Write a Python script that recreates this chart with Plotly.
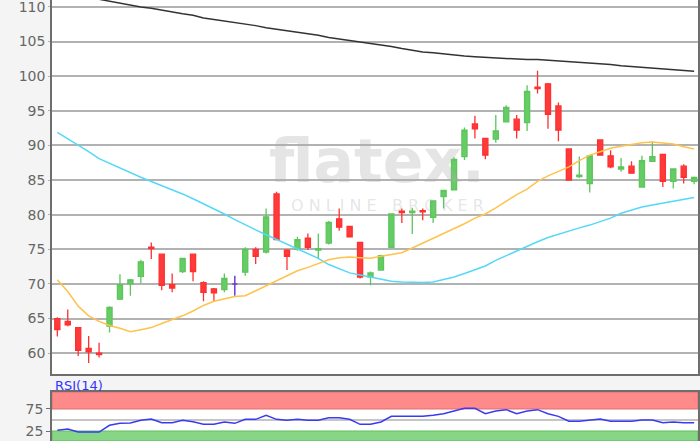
import plotly.graph_objects as go

# ---------------- data ----------------
idx = list(range(62))

opens = [65.0, 64.6, 63.7, 60.7, 60.0, 63.9, 67.8, 70.0, 71.1, 75.3,
         74.3, 69.9, 71.8, 74.3, 70.2, 69.3, 69.2, 70.0, 71.7, 75.0,
         74.6, 83.0, 74.9, 75.0, 76.6, 74.9, 75.9, 79.4, 78.3, 76.0,
         71.0, 72.0, 75.3, 80.5, 80.3, 80.6, 79.6, 82.6, 83.6, 88.4,
         93.1, 91.0, 90.9, 93.4, 93.8, 93.3, 98.4, 98.9, 95.7, 89.5,
         85.5, 84.5, 90.8, 88.5, 86.6, 87.0, 84.0, 87.7, 88.7, 84.8,
         87.0, 84.8]
highs = [65.2, 66.3, 63.7, 62.5, 61.5, 66.8, 71.4, 70.7, 73.5, 76.0,
         74.4, 71.5, 73.8, 74.4, 70.4, 69.4, 71.5, 71.2, 75.3, 75.3,
         80.9, 83.3, 75.0, 76.8, 77.3, 77.3, 79.1, 80.9, 78.4, 76.1,
         71.8, 74.2, 80.2, 80.9, 81.0, 80.9, 82.1, 83.6, 88.3, 92.6,
         94.3, 91.1, 94.4, 95.8, 94.4, 98.7, 100.8, 99.0, 96.2, 89.6,
         88.4, 88.6, 90.9, 89.3, 88.2, 87.7, 88.5, 90.6, 88.8, 86.7,
         87.3, 85.5]
lows = [62.4, 63.9, 59.6, 58.6, 59.4, 63.0, 67.7, 68.3, 70.1, 73.6,
        69.1, 68.8, 71.6, 70.4, 67.5, 67.5, 68.8, 68.3, 71.2, 72.9,
        74.4, 76.3, 72.0, 74.8, 74.9, 73.6, 75.7, 77.7, 76.7, 70.8,
        69.8, 71.9, 75.2, 78.8, 77.2, 79.2, 78.8, 80.9, 83.5, 87.9,
        91.0, 88.0, 90.4, 93.3, 91.0, 92.1, 97.5, 92.4, 90.6, 84.9,
        85.3, 83.2, 88.5, 86.7, 86.2, 85.9, 83.9, 87.6, 84.0, 83.8,
        84.5, 84.4]
closes = [63.4, 64.1, 60.4, 60.2, 59.8, 66.6, 69.9, 70.6, 73.2, 75.1,
          69.8, 69.4, 73.7, 71.8, 68.8, 68.7, 70.8, 70.0, 75.0, 74.0,
          79.7, 76.4, 74.0, 76.4, 75.3, 75.1, 78.9, 78.2, 76.8, 71.0,
          71.6, 74.1, 80.1, 80.3, 80.5, 80.4, 82.0, 83.5, 88.0, 92.2,
          92.4, 88.6, 92.1, 95.5, 92.2, 97.8, 98.2, 94.5, 92.2, 85.0,
          85.7, 88.5, 88.6, 86.9, 86.9, 86.0, 87.8, 88.4, 84.8, 86.6,
          85.4, 85.4]

sma_long = [112.1, 111.9, 111.6, 111.4, 111.1, 110.8, 110.6, 110.3, 110.0, 109.8,
            109.5, 109.3, 109.0, 108.8, 108.4, 108.2, 108.0, 107.7, 107.5, 107.3,
            107.0, 106.8, 106.6, 106.4, 106.2, 105.9, 105.6, 105.4, 105.2, 104.9,
            104.7, 104.5, 104.3, 104.0, 103.7, 103.5, 103.4, 103.2, 103.1, 102.9,
            102.8, 102.7, 102.6, 102.5, 102.5, 102.4, 102.4, 102.3, 102.2, 102.2,
            102.1, 102.0, 101.8, 101.7, 101.5, 101.4, 101.3, 101.1, 101.0, 100.9,
            100.8, 100.7]
sma_mid = [91.9, 91.0, 90.1, 89.1, 88.1, 87.4, 86.7, 86.1, 85.4, 84.8,
           84.2, 83.7, 83.0, 82.3, 81.6, 80.9, 80.1, 79.3, 78.5, 77.8,
           77.1, 76.4, 75.7, 75.0, 74.3, 73.7, 72.8, 72.2, 71.6, 71.3,
           71.0, 70.7, 70.4, 70.3, 70.2, 70.2, 70.3, 70.6, 71.0, 71.5,
           72.0, 72.6, 73.4, 74.1, 74.7, 75.4, 76.1, 76.7, 77.2, 77.7,
           78.1, 78.5, 79.0, 79.5, 80.2, 80.7, 81.1, 81.4, 81.7, 82.0,
           82.2, 82.5]
sma_short = [70.6, 68.9, 66.8, 65.4, 64.6, 64.0, 63.6, 63.1, 63.4, 63.7,
             64.3, 64.8, 65.4, 66.1, 66.9, 67.5, 67.9, 68.2, 68.3, 69.0,
             69.7, 70.4, 71.2, 71.9, 72.4, 72.9, 73.5, 73.8, 73.9, 73.8,
             73.7, 74.0, 74.2, 74.5, 75.2, 75.9, 76.5, 77.2, 77.9, 78.7,
             79.5, 80.1, 81.0, 82.0, 82.9, 83.7, 84.8, 85.6, 86.2, 86.9,
             87.8, 88.6, 89.1, 89.6, 89.9, 90.2, 90.4, 90.5, 90.4, 90.2,
             89.8, 89.5]
rsi = [26.6, 29.5, 22.7, 22.7, 22.7, 38.0, 42.4, 43.0, 49.3, 52.3,
       43.9, 44.0, 49.3, 46.2, 40.2, 40.2, 45.5, 42.4, 51.5, 51.5,
       60.6, 51.5, 49.3, 51.5, 49.3, 49.3, 55.3, 55.3, 51.5, 40.2,
       40.2, 45.5, 58.3, 58.3, 58.3, 58.3, 61.0, 64.4, 70.5, 76.5,
       76.5, 64.4, 70.5, 73.5, 64.4, 70.5, 73.5, 64.4, 58.3, 47.3,
       47.3, 49.5, 52.3, 47.3, 47.3, 47.3, 50.0, 50.0, 44.0, 45.5,
       44.0, 44.0]

price_ticks = [60, 65, 70, 75, 80, 85, 90, 95, 100, 105, 110]
rsi_ticks = [25, 75]
rsi_label = "RSI(14)"

# ---------------- figure ----------------
W, H = 700, 441
ML, MR = 52, 2
PW = W - ML - MR


def px2x(px):
    return (px - ML) / PW


def py2y(py):
    return 1 - py / H


fig = go.Figure()

moving = [i for i in idx if opens[i] != closes[i]]
flat = [i for i in idx if opens[i] == closes[i]]

fig.add_trace(go.Candlestick(
    x=moving,
    open=[opens[i] for i in moving], high=[highs[i] for i in moving],
    low=[lows[i] for i in moving], close=[closes[i] for i in moving],
    increasing=dict(line=dict(color="#5cc65c", width=1.3), fillcolor="#66cc66"),
    decreasing=dict(line=dict(color="#ff3030", width=1.3), fillcolor="#ff3a3a"),
    whiskerwidth=0, xaxis="x", yaxis="y", showlegend=False, hoverinfo="skip"))
fig.add_trace(go.Candlestick(
    x=flat,
    open=[opens[i] for i in flat], high=[highs[i] for i in flat],
    low=[lows[i] for i in flat], close=[closes[i] for i in flat],
    increasing=dict(line=dict(color="#6a3fd8", width=1.5), fillcolor="#6a3fd8"),
    decreasing=dict(line=dict(color="#6a3fd8", width=1.5), fillcolor="#6a3fd8"),
    whiskerwidth=0, xaxis="x", yaxis="y", showlegend=False, hoverinfo="skip"))

fig.add_trace(go.Scatter(x=idx, y=sma_long, mode="lines",
                         line=dict(color="#333333", width=1.5),
                         xaxis="x", yaxis="y", showlegend=False, hoverinfo="skip"))
fig.add_trace(go.Scatter(x=idx, y=sma_mid, mode="lines",
                         line=dict(color="#55d8f8", width=1.5),
                         xaxis="x", yaxis="y", showlegend=False, hoverinfo="skip"))
fig.add_trace(go.Scatter(x=idx, y=sma_short, mode="lines",
                         line=dict(color="#ffc24a", width=1.5),
                         xaxis="x", yaxis="y", showlegend=False, hoverinfo="skip"))
fig.add_trace(go.Scatter(x=idx, y=rsi, mode="lines",
                         line=dict(color="#3a3af0", width=1.5),
                         xaxis="x2", yaxis="y2", showlegend=False, hoverinfo="skip"))

RSI_LO, RSI_HI = 2.3, 113.6
XR = [-0.51, 61.37]

fig.update_layout(
    width=W, height=H, autosize=False,
    margin=dict(l=ML, r=MR, t=0, b=0, pad=0),
    paper_bgcolor="#f4f4f4", plot_bgcolor="#ffffff",
    font=dict(family="DejaVu Sans", size=14, color="#666666"),
    xaxis=dict(domain=[0, 1], range=XR, anchor="y", showgrid=False, zeroline=False,
               showticklabels=False, ticks="", showline=True, linecolor="#6e6e6e",
               linewidth=1.5, rangeslider=dict(visible=False), fixedrange=True),
    yaxis=dict(domain=[py2y(374), 1], range=[57, 111], tickvals=price_ticks,
               showgrid=True, gridcolor="#b2b2b2", gridwidth=1.5, zeroline=False,
               showline=True, mirror=True, linecolor="#6e6e6e", linewidth=1.5,
               ticks="outside", ticklen=2, tickcolor="#b2b2b2",
               ticklabeloverflow="allow",
               tickfont=dict(family="DejaVu Sans", size=14, color="#666666")),
    xaxis2=dict(domain=[0, 1], range=XR, anchor="y2", side="top", showgrid=False,
                zeroline=False, showticklabels=False, ticks="", showline=True,
                linecolor="#6e6e6e", linewidth=1.5, matches="x"),
    yaxis2=dict(domain=[0, py2y(392)], range=[RSI_LO, RSI_HI], tickvals=rsi_ticks,
                showgrid=False, zeroline=False, showline=True, mirror=True,
                linecolor="#6e6e6e", linewidth=1.5, ticks="outside", ticklen=4,
                tickcolor="#6e6e6e", ticklabeloverflow="allow",
                tickfont=dict(family="DejaVu Sans", size=14, color="#666666")),
)

# RSI bands and mid line
fig.add_shape(type="rect", xref="x2 domain", yref="y2", x0=0, x1=1, y0=75, y1=RSI_HI,
              fillcolor="#ff8a8a", line=dict(color="#e07070", width=1), layer="below")
fig.add_shape(type="rect", xref="x2 domain", yref="y2", x0=0, x1=1, y0=RSI_LO, y1=25,
              fillcolor="#86d686", line=dict(color="#62bf62", width=1), layer="below")
fig.add_shape(type="line", xref="x2 domain", yref="y2", x0=0, x1=1, y0=50, y1=50,
              line=dict(color="#b2b2b2", width=1.5), layer="below")

# RSI label
fig.add_annotation(x=px2x(53), y=py2y(385), xref="paper", yref="paper",
                   text=rsi_label, showarrow=False, xanchor="left", yanchor="middle",
                   font=dict(family="DejaVu Sans", size=13, color="#3333ff"))

# watermark
wm_color = "rgba(175,175,175,0.32)"
fig.add_annotation(x=px2x(377), y=py2y(161), xref="paper", yref="paper",
                   text="<b>flatex.</b>", showarrow=False, xanchor="center",
                   yanchor="middle",
                   font=dict(family="DejaVu Sans", size=60, color=wm_color))
fig.add_annotation(x=px2x(387), y=py2y(206), xref="paper", yref="paper",
                   text="O N L I N E   B R O K E R", showarrow=False,
                   xanchor="center", yanchor="middle",
                   font=dict(family="DejaVu Sans", size=16, color=wm_color))

fig.write_html("out.html",
               config={"displayModeBar": False},
               post_script="document.body.style.margin='0';"
                           "document.body.style.overflow='hidden';")
